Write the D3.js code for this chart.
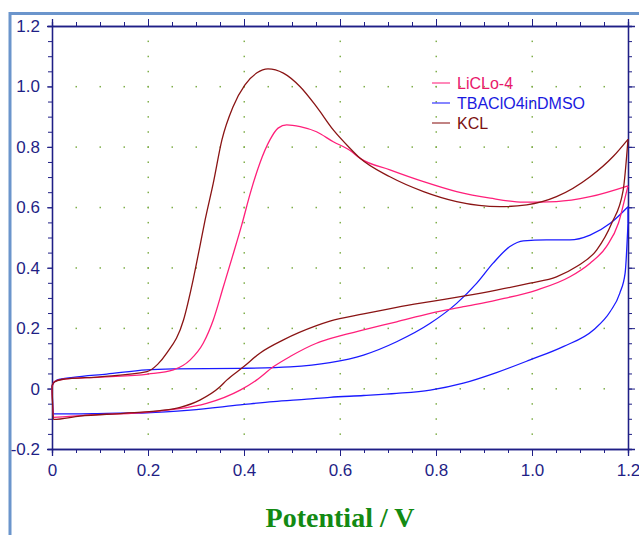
<!doctype html>
<html lang="en">
<head>
<meta charset="utf-8" />
<title>Cyclic voltammograms</title>
<script src="https://cdn.jsdelivr.net/npm/d3@7"></script>
<style>
  body { margin: 0; background: #fff; }
</style>
</head>
<body>
<script>
// data: each loop goes 0 -> 1.2 V and back
var seriesNames = ["LiCLo-4", "TBAClO4inDMSO", "KCL"];

var licloV = [0, 0.004, 0.02, 0.1, 0.2, 0.253, 0.288, 0.315, 0.336, 0.357, 0.378, 0.395, 0.413, 0.433, 0.454, 0.471, 0.489, 0.517, 0.551, 0.586, 0.621, 0.642, 0.704, 0.774, 0.843, 0.913, 0.982, 1.051, 1.121, 1.2,
              1.197, 1.18, 1.155, 1.121, 1.079, 1.01, 0.926, 0.857, 0.788, 0.718, 0.649, 0.579, 0.551, 0.496, 0.461, 0.426, 0.392, 0.322, 0.253, 0.183, 0.079, 0.003, 0];
var licloI = [0, 0.022, 0.03, 0.038, 0.048, 0.062, 0.095, 0.15, 0.227, 0.337, 0.448, 0.54, 0.646, 0.746, 0.823, 0.862, 0.873, 0.867, 0.85, 0.817, 0.788, 0.762, 0.724, 0.685, 0.652, 0.63, 0.617, 0.619, 0.635, 0.671,
              0.652, 0.547, 0.47, 0.415, 0.37, 0.326, 0.293, 0.271, 0.249, 0.221, 0.194, 0.165, 0.15, 0.106, 0.072, 0.028, -0.005, -0.049, -0.069, -0.08, -0.087, -0.095, 0];

var tbaV = [0, 0.003, 0.01, 0.044, 0.114, 0.197, 0.253, 0.392, 0.496, 0.579, 0.649, 0.718, 0.788, 0.843, 0.885, 0.919, 0.954, 0.982, 1.03, 1.079, 1.121, 1.163, 1.2,
            1.2, 1.194, 1.183, 1.163, 1.128, 1.065, 0.996, 0.926, 0.857, 0.788, 0.718, 0.649, 0.579, 0.531, 0.461, 0.392, 0.288, 0.197, 0.114, 0.003, 0];
var tbaI = [0.01, 0.018, 0.028, 0.037, 0.048, 0.062, 0.065, 0.067, 0.072, 0.086, 0.111, 0.155, 0.216, 0.282, 0.349, 0.415, 0.47, 0.489, 0.492, 0.492, 0.508, 0.547, 0.602,
            0.547, 0.382, 0.316, 0.255, 0.194, 0.139, 0.095, 0.053, 0.018, -0.005, -0.016, -0.023, -0.029, -0.035, -0.043, -0.054, -0.071, -0.08, -0.082, -0.084, 0.01];

var kclV = [0, 0.005, 0.02, 0.1, 0.198, 0.22, 0.239, 0.274, 0.294, 0.308, 0.319, 0.336, 0.354, 0.377, 0.402, 0.427, 0.45, 0.482, 0.517, 0.551, 0.586, 0.621, 0.642, 0.704, 0.774, 0.843, 0.933, 0.989, 1.051, 1.121, 1.169, 1.2,
            1.19, 1.166, 1.135, 1.093, 1.051, 0.996, 0.926, 0.857, 0.788, 0.718, 0.649, 0.579, 0.551, 0.482, 0.433, 0.399, 0.364, 0.35, 0.308, 0.267, 0.225, 0.149, 0.058, 0.003, 0];
var kclI = [0.01, 0.022, 0.03, 0.039, 0.056, 0.08, 0.117, 0.227, 0.36, 0.47, 0.558, 0.68, 0.823, 0.932, 1.005, 1.045, 1.058, 1.044, 0.999, 0.933, 0.856, 0.795, 0.762, 0.701, 0.652, 0.619, 0.602, 0.608, 0.635, 0.701, 0.768, 0.825,
            0.657, 0.547, 0.459, 0.404, 0.37, 0.349, 0.326, 0.306, 0.288, 0.269, 0.247, 0.223, 0.208, 0.161, 0.117, 0.072, 0.028, 0.006, -0.038, -0.062, -0.073, -0.082, -0.091, -0.102, 0.01];

var xTicks = [0, 0.2, 0.4, 0.6, 0.8, 1.0, 1.2];
var xTickLabels = ["0", "0.2", "0.4", "0.6", "0.8", "1.0", "1.2"];
var yTicks = [-0.2, 0, 0.2, 0.4, 0.6, 0.8, 1.0, 1.2];
var yTickLabels = ["-0.2", "0", "0.2", "0.4", "0.6", "0.8", "1.0", "1.2"];

var w = 639, h = 535;
var axisColor = "#1f1f86";
var colors = ["#ff1f7a", "#1a1aff", "#8a1414"];
var textColors = ["#e8186c", "#1a1ae0", "#7a1010"];

var svg = d3.select("body").append("svg")
  .attr("width", w)
  .attr("height", h);

// light blue frame on top and left
svg.append("line").attr("x1", 10).attr("x2", w).attr("y1", 13.5).attr("y2", 13.5)
  .attr("stroke", "#6b95cc").attr("stroke-width", 3);
svg.append("line").attr("x1", 10).attr("x2", 10).attr("y1", 12).attr("y2", h)
  .attr("stroke", "#6b95cc").attr("stroke-width", 3);

var x = d3.scaleLinear().domain([0, 1.2]).range([52, 628]);
var y = d3.scaleLinear().domain([-0.2, 1.2]).range([449, 26]);

// dotted grid: dots at minor steps along major lines
var minorX = d3.range(0, 1.2001, 0.05);
var minorY = d3.range(-0.2, 1.2001, 0.05);
var grid = svg.append("g").attr("fill", "#7fae4a");
xTicks.slice(1, -1).forEach(function(v) {
  minorY.slice(1, -1).forEach(function(u) {
    grid.append("rect").attr("x", x(v) - 0.5).attr("y", y(u) - 0.5).attr("width", 1.5).attr("height", 1.5);
  });
});
yTicks.slice(1, -1).forEach(function(u) {
  minorX.slice(1, -1).forEach(function(v) {
    grid.append("rect").attr("x", x(v) - 0.5).attr("y", y(u) - 0.5).attr("width", 1.5).attr("height", 1.5);
  });
});

// axes on four sides
function styleAxis(g) {
  g.selectAll("path, line").attr("stroke", axisColor);
  g.selectAll("text").attr("fill", axisColor).attr("font-family", "Liberation Sans, Arial, sans-serif").attr("font-size", "17px");
}
svg.append("g").attr("transform", "translate(0," + y(-0.2) + ")")
  .call(d3.axisBottom(x).tickValues(xTicks).tickFormat(function(d, i) { return xTickLabels[i]; }).tickSize(7).tickPadding(8))
  .call(styleAxis);
svg.append("g").attr("transform", "translate(0," + y(-0.2) + ")")
  .call(d3.axisBottom(x).tickValues(minorX).tickFormat("").tickSize(4)).call(styleAxis);
svg.append("g").attr("transform", "translate(0," + y(1.2) + ")")
  .call(d3.axisTop(x).tickValues(xTicks).tickFormat("").tickSize(7)).call(styleAxis);
svg.append("g").attr("transform", "translate(0," + y(1.2) + ")")
  .call(d3.axisTop(x).tickValues(minorX).tickFormat("").tickSize(4)).call(styleAxis);
svg.append("g").attr("transform", "translate(" + x(0) + ",0)")
  .call(d3.axisLeft(y).tickValues(yTicks).tickFormat(function(d, i) { return yTickLabels[i]; }).tickSize(5).tickPadding(7))
  .call(styleAxis);
svg.append("g").attr("transform", "translate(" + x(0) + ",0)")
  .call(d3.axisLeft(y).tickValues(minorY).tickFormat("").tickSize(4)).call(styleAxis);
svg.append("g").attr("transform", "translate(" + x(1.2) + ",0)")
  .call(d3.axisRight(y).tickValues(yTicks).tickFormat("").tickSize(7)).call(styleAxis);
svg.append("g").attr("transform", "translate(" + x(1.2) + ",0)")
  .call(d3.axisRight(y).tickValues(minorY).tickFormat("").tickSize(4)).call(styleAxis);
svg.selectAll(".domain").attr("stroke-width", 1.3);

// curves: forward and reverse scans drawn as separate monotone branches
var line = d3.line()
  .x(function(d) { return x(d[0]); })
  .y(function(d) { return y(d[1]); })
  .curve(d3.curveMonotoneX);

function branches(vs, is) {
  var pts = d3.zip(vs, is);
  var turn = vs.indexOf(d3.max(vs));
  var fwd = pts.slice(0, turn + 1);
  var back = pts.slice(turn);
  if (back.length > 1 && back[1][0] === back[0][0]) back = back.slice(1);
  return [fwd, [pts[turn], back[0]], back];
}

var allSeries = [
  branches(licloV, licloI),
  branches(tbaV, tbaI),
  branches(kclV, kclI)
];
[1, 0, 2].forEach(function(k) {
  allSeries[k].forEach(function(part) {
    svg.append("path")
      .datum(part)
      .attr("d", line)
      .attr("fill", "none")
      .attr("stroke", colors[k])
      .attr("stroke-width", 1.3);
  });
});

// legend
var legend = svg.append("g").attr("transform", "translate(432,83)");
seriesNames.forEach(function(name, i) {
  legend.append("line").attr("x1", 0).attr("x2", 18).attr("y1", i * 20).attr("y2", i * 20)
    .attr("stroke", colors[i]).attr("stroke-opacity", 0.7).attr("stroke-width", 1.5);
  legend.append("text").attr("x", 25).attr("y", i * 20 + 6)
    .attr("fill", textColors[i])
    .attr("font-family", "Liberation Sans, Arial, sans-serif")
    .attr("font-size", "16px")
    .text(name);
});

// axis title
svg.append("text")
  .attr("x", 340).attr("y", 527)
  .attr("text-anchor", "middle")
  .attr("fill", "#138a13")
  .attr("font-family", "Liberation Serif, Times New Roman, serif")
  .attr("font-weight", "bold")
  .attr("font-size", "28px")
  .text("Potential / V");
</script>
</body>
</html>
